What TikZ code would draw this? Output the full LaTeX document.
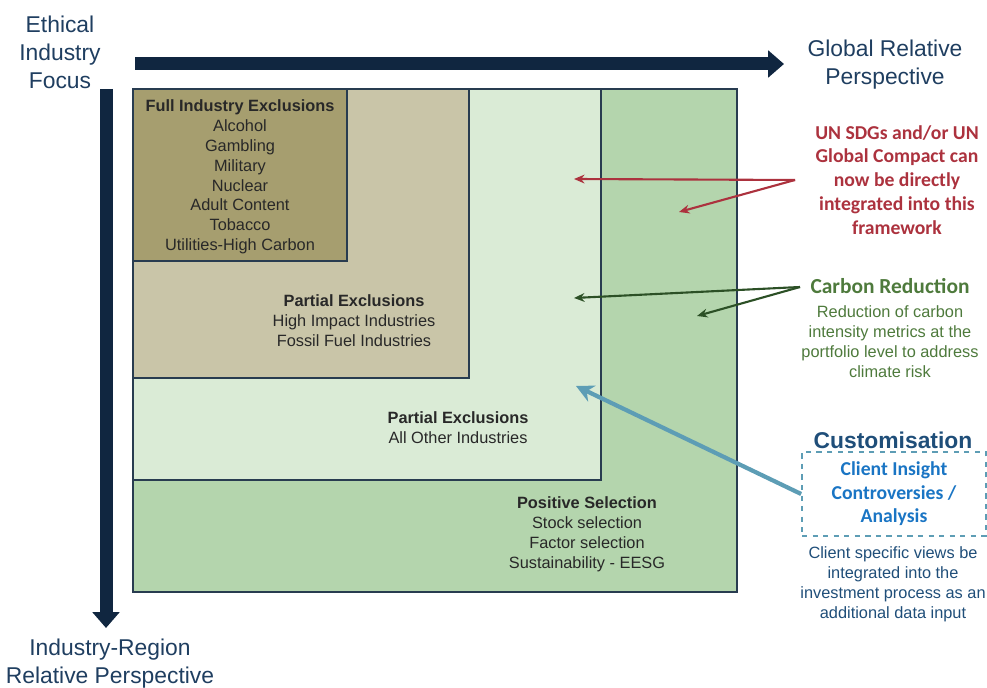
\documentclass[tikz,border=0pt]{standalone}
\usepackage{fontspec}
\setmainfont{Liberation Sans}
\newfontfamily\calfont{Carlito}
\usetikzlibrary{arrows.meta,positioning}
\definecolor{navy}{RGB}{16,38,64}
\definecolor{axistext}{RGB}{31,62,96}
\definecolor{edge}{RGB}{40,60,80}
\definecolor{posgreen}{RGB}{180,213,173}
\definecolor{palegreen}{RGB}{218,235,214}
\definecolor{lighttan}{RGB}{201,197,168}
\definecolor{darktan}{RGB}{166,158,111}
\definecolor{sdgred}{RGB}{172,50,62}
\definecolor{carbontext}{RGB}{78,122,60}
\definecolor{carbonarrow}{RGB}{44,80,38}
\definecolor{custarrow}{RGB}{93,157,181}
\definecolor{custblue}{RGB}{31,78,121}
\definecolor{insightblue}{RGB}{26,117,196}
\definecolor{boxtext}{RGB}{40,40,40}
\tikzset{
	axislabel/.style={align=center,text=axistext,font=\fontsize{13}{16}\selectfont},
	boxlabel/.style={align=center,text=boxtext,font=\fontsize{9.3}{11.3}\selectfont},
	layer/.style={draw=edge,line width=1pt},
	axisarrow/.style={navy,line width=7.4pt,-{Triangle[length=9pt,width=15pt]}},
	thinarrow/.style={line width=1.2pt,-{Stealth[length=6pt,width=5pt]}}
}
\begin{document}
\begin{tikzpicture}[x=0.02cm,y=-0.02cm]
	\useasboundingbox (0,0) rectangle (987,688);

	%LAYERS
	\draw[layer,fill=posgreen]  (133,89) rectangle (737,592);
	\draw[layer,fill=palegreen] (133,89) rectangle (601,480);
	\draw[layer,fill=lighttan]  (133,89) rectangle (469,378);
	\draw[layer,fill=darktan]   (133,89) rectangle (347,261);

	%AXES
	\coordinate (hstart) at (135,64);	\coordinate (hend) at (784,64);
	\coordinate (vstart) at (106,89);	\coordinate (vend) at (106,628);
	\draw[axisarrow] (hstart) -- (hend);
	\draw[axisarrow] (vstart) -- (vend);

	\node[axislabel] (ethical) at (60,52)  {Ethical\\Industry\\Focus};
	\node[axislabel] (global)  at (885,65) {Global Relative\\Perspective};
	\node[axislabel] (region)  at (110,664) {Industry-Region\\Relative Perspective};

	%LABELS
	\node[boxlabel] (full) at (240,177) {\textbf{Full Industry Exclusions}\\Alcohol\\Gambling\\Military\\Nuclear\\Adult Content\\Tobacco\\Utilities-High Carbon};
	\node[boxlabel] (highimpact) at (354,321) {\textbf{Partial Exclusions}\\High Impact Industries\\Fossil Fuel Industries};
	\node[boxlabel] (allother) at (458,428) {\textbf{Partial Exclusions}\\All Other Industries};
	\node[boxlabel] (positive) at (587,534) {\textbf{Positive Selection}\\Stock selection\\Factor selection\\Sustainability - EESG};

	%RIGHT HAND NOTES
	\node[align=center,text=sdgred,font=\calfont\bfseries\fontsize{11.2}{13.6}\selectfont] (sdg) at (897,180)
		{UN SDGs and/or UN\\Global Compact can\\now be directly\\integrated into this\\framework};
	\node[text=carbontext,font=\calfont\bfseries\fontsize{12.2}{14}\selectfont] (carbon) at (890,286) {Carbon Reduction};
	\node[boxlabel,text=carbontext,below=0pt of carbon] (carbonnote)
		{Reduction of carbon\\intensity metrics at the\\portfolio level to address\\climate risk};
	\node[text=custblue,font=\bfseries\fontsize{13}{15}\selectfont] (cust) at (893,440) {Customisation};
	\node[draw=custarrow,dashed,line width=1pt,minimum width=3.68cm,minimum height=1.68cm,align=center,
		text=insightblue,font=\calfont\bfseries\fontsize{11.2}{13.3}\selectfont] (insight) at (894,494)
		{Client Insight\\Controversies /\\Analysis};
	\node[boxlabel,text=custblue] (custnote) at (893,584)
		{Client specific views be\\integrated into the\\investment process as an\\additional data input};

	%ARROWS
	\coordinate (sdgfrom) at (795,180);
	\coordinate (sdgto1) at (574,179);	\coordinate (sdgto2) at (679,212);
	\draw[thinarrow,sdgred] (sdgfrom) -- (sdgto1);
	\draw[thinarrow,sdgred] (sdgfrom) -- (sdgto2);
	\coordinate (carbonfrom) at (800,287);
	\coordinate (carbonto1) at (574,298);	\coordinate (carbonto2) at (697,316);
	\draw[thinarrow,carbonarrow] (carbonfrom) -- (carbonto1);
	\draw[thinarrow,carbonarrow] (carbonfrom) -- (carbonto2);
	\coordinate (custto) at (576,386);
	\draw[custarrow,line width=2.4pt,-{Stealth[length=10pt,width=10pt]}] (insight.west) -- (custto);
\end{tikzpicture}
\end{document}
